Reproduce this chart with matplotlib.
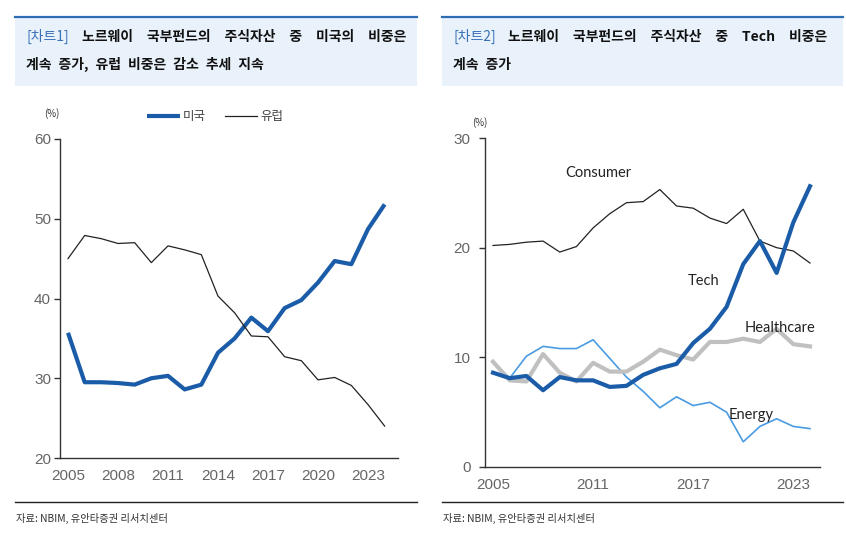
import matplotlib
matplotlib.use("Agg")
import matplotlib.pyplot as plt
from matplotlib.patches import Rectangle
from matplotlib.lines import Line2D

plt.rcParams['font.family'] = ['Noto Sans CJK KR', 'DejaVu Sans']

# chart 1: share of US / Europe in the equity portfolio (%)
years = list(range(2005, 2025))
us = [35.7, 29.5, 29.5, 29.4, 29.2, 30.0, 30.3, 28.6, 29.2, 33.2,
      35.0, 37.6, 35.9, 38.8, 39.8, 42.0, 44.7, 44.3, 48.7, 51.8]
europe = [45.0, 47.9, 47.5, 46.9, 47.0, 44.5, 46.6, 46.1, 45.5, 40.3,
          38.2, 35.3, 35.2, 32.7, 32.2, 29.8, 30.1, 29.1, 26.7, 24.0]
left_xticks = [2005, 2008, 2011, 2014, 2017, 2020, 2023]
left_yticks = [20, 30, 40, 50, 60]

# chart 2: sector shares (%)
consumer = [20.2, 20.3, 20.5, 20.6, 19.6, 20.1, 21.8, 23.1, 24.1, 24.2,
            25.3, 23.8, 23.6, 22.7, 22.2, 23.5, 20.6, 20.0, 19.7, 18.6]
tech = [8.6, 8.1, 8.3, 7.0, 8.2, 7.9, 7.9, 7.3, 7.4, 8.4,
        9.0, 9.4, 11.3, 12.6, 14.6, 18.5, 20.6, 17.7, 22.3, 25.6]
healthcare = [9.6, 7.9, 7.8, 10.3, 8.6, 7.8, 9.5, 8.7, 8.7, 9.6,
              10.7, 10.2, 9.8, 11.4, 11.4, 11.7, 11.4, 12.6, 11.2, 11.0]
energy = [9.6, 8.1, 10.1, 11.0, 10.8, 10.8, 11.6, 9.9, 8.2, 6.9,
          5.4, 6.4, 5.6, 5.9, 5.0, 2.3, 3.7, 4.4, 3.7, 3.5]
right_xticks = [2005, 2011, 2017, 2023]
right_yticks = [0, 10, 20, 30]

W, H = 846, 539
fig = plt.figure(figsize=(W / 100, H / 100), dpi=100)


def fx(px):
    return px / W


def fy(py):
    return 1 - py / H


# title boxes
for x0, x1 in [(15, 417), (442, 843)]:
    fig.add_artist(Rectangle((fx(x0), fy(86)), fx(x1 - x0), 69 / H,
                             transform=fig.transFigure, facecolor='#e9f2fb',
                             edgecolor='none'))
    fig.add_artist(Line2D([fx(x0), fx(x1)], [fy(17), fy(17)],
                          transform=fig.transFigure, color='#2f6db3', lw=1.6))
    fig.add_artist(Line2D([fx(x0), fx(x1)], [fy(502), fy(502)],
                          transform=fig.transFigure, color='#222222', lw=1.0))

sp = '\u3000'
sp2 = '\u2002'
fig.text(fx(26), fy(36.5), '[차트1]', color='#3a72b8', fontsize=10, va='center')
fig.text(fx(82), fy(36.5), sp.join(['노르웨이', '국부펀드의', '주식자산', '중', '미국의', '비중은']),
         fontsize=10, fontweight='bold', va='center', color='#111111')
fig.text(fx(26), fy(64.5), sp2.join(['계속', '증가,', '유럽', '비중은', '감소', '추세', '지속']),
         fontsize=10, fontweight='bold', va='center', color='#111111')

fig.text(fx(453), fy(36.5), '[차트2]', color='#3a72b8', fontsize=10, va='center')
fig.text(fx(508), fy(36.5), sp.join(['노르웨이', '국부펀드의', '주식자산', '중', 'Tech', '비중은']),
         fontsize=10, fontweight='bold', va='center', color='#111111')
fig.text(fx(453), fy(64.5), sp2.join(['계속', '증가']),
         fontsize=10, fontweight='bold', va='center', color='#111111')

fig.text(fx(16), fy(518), '자료: NBIM, 유안타증권 리서치센터', fontsize=7.4,
         va='center', color='#333333')
fig.text(fx(443), fy(518), '자료: NBIM, 유안타증권 리서치센터', fontsize=7.4,
         va='center', color='#333333')


def style_axis(ax, ypad):
    for s in ['top', 'right']:
        ax.spines[s].set_visible(False)
    for s in ['left', 'bottom']:
        ax.spines[s].set_color('#333333')
        ax.spines[s].set_linewidth(1.0)
    ax.tick_params(axis='y', length=4, width=1.0, color='#333333', pad=ypad,
                   labelsize=11, labelcolor='#666666')
    ax.tick_params(axis='x', length=0, pad=8, labelsize=11, labelcolor='#666666')
    for lab in ax.get_xticklabels() + ax.get_yticklabels():
        lab.set_family('Liberation Sans')


# left chart
ax1 = fig.add_axes([fx(60), fy(458), fx(338), 319 / H])
ax1.plot(years, us, color='#1b5ca8', lw=3.0, label='미국', solid_capstyle='butt')
ax1.plot(years, europe, color='#222222', lw=0.9, label='유럽')
ax1.set_xlim(2004.52, 2024.8)
ax1.set_ylim(20, 60)
ax1.set_xticks(left_xticks)
ax1.set_yticks(left_yticks)
style_axis(ax1, 2.5)
leg = ax1.legend(loc='center', bbox_to_anchor=(0.46, 1.069), ncol=2, frameon=False,
                 handlelength=2.6, handletextpad=0.25, columnspacing=1.5,
                 prop={'size': 9})
for t in leg.get_texts():
    t.set_color('#404040')
fig.text(fx(52), fy(114), '(%)', fontsize=7, ha='center', va='center', color='#333333')

# right chart
ax2 = fig.add_axes([fx(485), fy(467), fx(335), 329 / H])
ax2.plot(years, energy, color='#4a9be2', lw=1.2)
ax2.plot(years, healthcare, color='#c0c0c0', lw=3.0)
ax2.plot(years, consumer, color='#222222', lw=0.9)
ax2.plot(years, tech, color='#1b5ca8', lw=3.0)
ax2.set_xlim(2004.52, 2024.6)
ax2.set_ylim(0, 30)
ax2.set_xticks(right_xticks)
ax2.set_yticks(right_yticks)
style_axis(ax2, 6.5)
fig.text(fx(480), fy(123), '(%)', fontsize=7, ha='center', va='center', color='#333333')

lab_font = {'family': 'Lato', 'size': 10.5, 'color': '#222222'}
ax2.text(2011.3, 26.8, 'Consumer', ha='center', va='center', fontdict=lab_font)
ax2.text(2017.6, 17.0, 'Tech', ha='center', va='center', fontdict=lab_font)
ax2.text(2022.2, 12.7, 'Healthcare', ha='center', va='center', fontdict=lab_font)
ax2.text(2020.5, 4.7, 'Energy', ha='center', va='center', fontdict=lab_font)

fig.savefig('out.png', dpi=100)
